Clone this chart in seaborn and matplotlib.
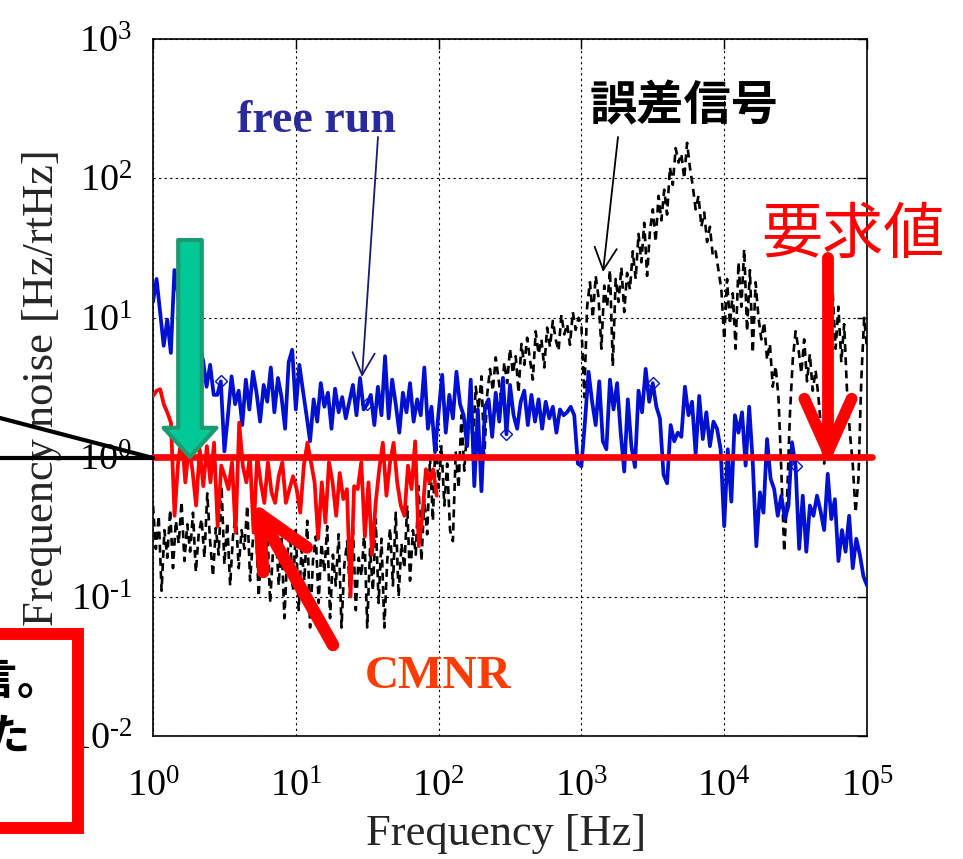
import numpy as np
import pandas as pd
import matplotlib
matplotlib.use("Agg")
import matplotlib.pyplot as plt
import seaborn as sns
from matplotlib.patches import FancyArrowPatch, Rectangle
from matplotlib.lines import Line2D
from matplotlib.ticker import FixedLocator, NullLocator, FuncFormatter

# ---------------- data ----------------
# free run (blue), 40 points per decade, 1 Hz .. 100 kHz
blue_d0 = [13, 19, 11, 6.3, 9.7, 5.6, 22, 15, 9, 6, 8, 5, 4.5, 6, 5.0, 3.2, 4.6, 2.8, 2.8, 3.5,
           1.1, 2.0, 3.8, 2.4, 3.0, 1.7, 3.6, 2.2, 4.1, 2.9, 1.8, 3.3, 2.5, 4.4, 2.1, 3.7, 2.7, 1.6, 4.8, 5.9]
blue_d1 = [2.2, 4.6, 3.0, 2.0, 1.3, 2.6, 1.8, 3.4, 2.3, 2.9, 1.6, 3.1, 2.1, 2.7, 1.9, 2.5, 3.3, 2.0, 3.7, 2.2,
           2.4, 2.8, 1.7, 3.2, 2.0, 5.3, 1.9, 3.6, 2.4, 1.5, 2.9, 2.1, 3.4, 1.8, 2.6, 2.0, 4.4, 1.6, 2.3, 1.1]
blue_d2 = [2.1, 3.9, 1.5, 2.8, 1.9, 4.1, 2.4, 2.0, 1.2, 3.6, 0.62, 2.2, 0.57, 2.3, 2.6, 1.4, 2.9, 1.8, 3.7, 1.46,
           3.3, 2.0, 1.6, 2.5, 3.0, 1.7, 2.8, 1.8, 2.6, 1.6, 2.5, 1.9, 2.3, 1.5, 2.2, 2.0, 2.1, 2.3, 2.0, 0.9]
blue_d3 = [0.86, 1.8, 4.1, 2.5, 1.7, 3.5, 1.3, 1.14, 3.6, 2.2, 3.4, 1.5, 0.79, 2.6, 1.2, 0.85, 3.0, 2.1, 4.3, 2.5,
           3.4, 2.3, 1.9, 0.75, 0.65, 1.7, 1.3, 1.5, 1.4, 3.2, 2.0, 2.5, 1.05, 2.75, 1.35, 2.1, 1.2, 1.8, 1.6, 1.14]
blue_d4 = [0.32, 1.14, 0.48, 2.0, 1.5, 2.1, 0.87, 2.3, 0.92, 0.23, 0.56, 0.40, 1.35, 0.70, 0.59, 0.38, 0.53,
           0.36, 0.45, 1.28, 0.86, 0.22, 0.53, 0.21, 0.45, 0.38, 0.53, 0.41, 0.30, 0.76, 0.36, 0.50, 0.18,
           0.30, 0.21, 0.38, 0.16, 0.26, 0.20, 0.14, 0.12]
blue_marker_idx = [19, 60, 99, 140, 180]

# CMNR (red), 1 Hz .. ~97 Hz
red_cmnr = [2.75, 3.0, 3.07, 2.4, 2.09, 1.77, 0.38, 0.92, 1.42, 0.66, 1.2, 0.8, 0.45, 1.14, 0.62, 1.2,
            0.66, 1.27, 0.32, 0.87, 0.73, 0.59, 0.92, 0.29, 1.77, 0.87, 0.66, 1.02, 0.29, 1.02, 0.66, 0.47,
            0.92, 0.56, 0.47, 0.73, 0.92, 0.47, 0.59, 0.73, 0.59, 0.40, 0.87, 1.27, 0.92, 0.66, 0.26, 0.66,
            0.34, 0.92, 0.66, 0.38, 0.77, 0.50, 0.59, 0.10, 0.62, 0.59, 0.92, 0.27, 0.66, 0.20, 0.47, 0.82,
            1.27, 0.53, 0.92, 1.27, 0.66, 0.45, 0.38, 0.87, 0.59, 1.3, 0.23, 0.38, 0.82, 0.66, 0.82, 0.53]
red_f_end = 97.0

# error signal (black dashed), 50 points per decade
black_d0 = [0.45, 0.22, 0.38, 0.11, 0.30, 0.19, 0.42, 0.16, 0.35, 0.24, 0.48, 0.18, 0.33, 0.21, 0.40, 0.15,
            0.28, 0.36, 0.19, 0.55, 0.25, 0.14, 0.31, 0.20, 0.62, 0.17, 0.34, 0.12, 0.27, 0.39, 0.16, 0.30,
            0.22, 0.45, 0.13, 0.26, 0.35, 0.10, 0.24, 0.18, 0.33, 0.09, 0.21, 0.30, 0.12, 0.26, 0.07, 0.20,
            0.28, 0.11]
black_d1 = [0.30, 0.08, 0.22, 0.13, 0.35, 0.06, 0.18, 0.27, 0.09, 0.24, 0.15, 0.32, 0.07, 0.20, 0.12, 0.28,
            0.06, 0.17, 0.25, 0.10, 0.33, 0.08, 0.19, 0.14, 0.30, 0.06, 0.22, 0.11, 0.36, 0.09, 0.26, 0.06,
            0.18, 0.31, 0.12, 0.40, 0.10, 0.24, 0.16, 0.45, 0.13, 0.30, 0.20, 0.62, 0.18, 0.50, 0.28, 1.0,
            0.35, 1.6]
black_d2 = [0.6, 1.2, 0.45, 0.9, 0.3, 0.25, 1.1, 0.6, 2.0, 0.8, 1.6, 2.6, 1.2, 3.2, 2.2, 3.8, 1.0, 2.8, 4.3,
            3.0, 5.2, 3.6, 2.5, 4.8, 3.4, 6.0, 4.0, 5.3, 2.9, 6.5, 4.6, 7.2, 5.0, 3.6, 8.0, 5.5, 7.0, 4.4,
            8.5, 6.2, 9.5, 7.0, 5.8, 10.5, 7.6, 9.0, 6.4, 11.0, 8.2, 10.0]
black_d3 = [9.0, 2.7, 12.0, 18.0, 10.0, 20.0, 14.0, 6.0, 17.0, 12.0, 22.0, 4.5, 19.0, 13.0, 23.0, 11.0,
            21.0, 16.0, 30.0, 19.0, 40.0, 25.0, 48.0, 20.0, 42.0, 60.0, 35.0, 75.0, 50.0, 83.0, 55.0,
            120.0, 90.0, 165.0, 130.0, 150.0, 100.0, 180.0, 120.0, 88.0, 60.0, 75.0, 45.0, 57.0, 35.0,
            45.0, 28.0, 30.0, 22.0, 16.0]
black_d4 = [7.0, 19.0, 9.0, 15.0, 6.0, 25.0, 12.0, 31.0, 8.0, 22.0, 5.6, 18.0, 10.0, 7.0, 9.3, 5.0, 6.5,
            3.2, 4.5, 2.7, 0.8, 0.21, 0.5, 2.0, 5.0, 8.0, 6.0, 4.0, 7.0, 3.5, 5.5, 3.0, 4.2, 2.7, 1.5, 0.9,
            1.8, 8.0, 15.0, 6.0, 12.0, 4.8, 9.0, 3.0, 1.5, 0.9, 0.4, 0.7, 3.6, 10.0, 6.0]

# requirement level (要求値)
req_freq = [1.0, 1.085e5]
req_level = [1.0, 1.0]

x_ticks = [1e0, 1e1, 1e2, 1e3, 1e4, 1e5]
y_ticks = [1e-2, 1e-1, 1e0, 1e1, 1e2, 1e3]


def decade_grid(decades):
    parts = []
    for i, vals in enumerate(decades):
        last = i == len(decades) - 1
        parts.append(np.logspace(i, i + 1, len(vals), endpoint=last))
    return np.concatenate(parts)


blue_dec = [blue_d0, blue_d1, blue_d2, blue_d3, blue_d4]
black_dec = [black_d0, black_d1, black_d2, black_d3, black_d4]
df_blue = pd.DataFrame({"f": decade_grid(blue_dec), "v": np.concatenate(blue_dec)})
df_black = pd.DataFrame({"f": decade_grid(black_dec), "v": np.concatenate(black_dec)})
df_red = pd.DataFrame({"f": np.logspace(0, np.log10(red_f_end), len(red_cmnr)), "v": red_cmnr})
df_req = pd.DataFrame({"f": req_freq, "v": req_level})

# ---------------- style ----------------
sns.set_style("white")
plt.rcParams["font.family"] = ["Liberation Serif", "Noto Sans CJK JP"]
plt.rcParams["mathtext.fontset"] = "custom"
plt.rcParams["mathtext.rm"] = "Liberation Serif"
plt.rcParams["axes.unicode_minus"] = False

W, H = 963, 859
fig = plt.figure(figsize=(W / 100, H / 100), dpi=100)
ax = fig.add_axes([153 / W, 1 - 736 / H, 714 / W, 697 / H])
ax.set_xscale("log")
ax.set_yscale("log")


def fp(x, y):
    return (x / W, 1 - y / H)


sns.lineplot(data=df_black, x="f", y="v", ax=ax, color="black", lw=1.9,
             linestyle=(0, (3, 2)), estimator=None, sort=False, errorbar=None, zorder=2)
sns.lineplot(data=df_blue, x="f", y="v", ax=ax, color="#0010D0", lw=2.7,
             estimator=None, sort=False, errorbar=None, zorder=3,
             marker="D", markevery=blue_marker_idx, markersize=6,
             markerfacecolor="none", markeredgecolor="#0010D0", markeredgewidth=1)
sns.lineplot(data=df_red, x="f", y="v", ax=ax, color="#FF0000", lw=2.7,
             estimator=None, sort=False, errorbar=None, zorder=4)
sns.lineplot(data=df_req, x="f", y="v", ax=ax, color="#FF0000", lw=4.8,
             estimator=None, sort=False, errorbar=None, zorder=5, clip_on=False)


def sci_label(v, pos):
    e = int(round(np.log10(v)))
    s = str(e).replace("-", r"\text{-}")
    return r"$\mathdefault{10^{%s}}$" % s


ax.set_xlim(1, 1e5)
ax.set_ylim(1e-2, 1e3)
ax.xaxis.set_major_locator(FixedLocator(x_ticks))
ax.yaxis.set_major_locator(FixedLocator(y_ticks))
ax.xaxis.set_minor_locator(NullLocator())
ax.yaxis.set_minor_locator(NullLocator())
ax.xaxis.set_major_formatter(FuncFormatter(sci_label))
ax.yaxis.set_major_formatter(FuncFormatter(sci_label))
ax.tick_params(axis="both", which="major", direction="in", length=7, width=1,
               top=True, right=True, labelsize=27.5, colors="black")
ax.tick_params(axis="x", pad=24)
ax.tick_params(axis="y", pad=15)
ax.grid(True, which="major", color="black", linestyle=(0, (2, 3)), linewidth=0.8)
ax.set_axisbelow(True)
for s in ax.spines.values():
    s.set_color("black")
    s.set_linewidth(1.2)
    s.set_visible(True)
if ax.get_legend() is not None:
    ax.get_legend().remove()

ax.set_xlabel("Frequency [Hz]", fontsize=32, family="Liberation Serif")
ax.set_ylabel("Frequency noise [Hz/rtHz]", fontsize=32, family="Liberation Serif")
ax.xaxis.set_label_coords((506 - 153) / 714, (736 - 814) / 697)
ax.yaxis.set_label_coords((62 - 153) / 714, 0.5)

# ---------------- annotations ----------------
fig.text(*fp(316, 132), "free run", ha="center", va="baseline", fontsize=33,
         fontweight="bold", color="#2A2A9C", family="Liberation Serif")
fig.text(*fp(684, 106), "誤差信号", ha="center", va="center", fontsize=34,
         fontweight="bold", color="black", family=["Noto Sans CJK JP", "DejaVu Sans"])
fig.text(*fp(853, 236), "要求値", ha="center", va="center", fontsize=44,
         color="#FF0000", family=["Noto Sans CJK JP", "DejaVu Sans"])
fig.text(*fp(438, 688), "CMNR", ha="center", va="baseline", fontsize=34,
         fontweight="bold", color="#FF3C00", family="Liberation Serif")


def arrow(p0, p1, style, **kw):
    a = FancyArrowPatch(fp(*p0), fp(*p1), transform=fig.transFigure, arrowstyle=style,
                        mutation_scale=1, shrinkA=0, shrinkB=0, **kw)
    fig.add_artist(a)
    return a


arrow((378, 137), (362, 377), "->,head_length=16,head_width=8", color="#1B1B6B", lw=1.3, zorder=8)
arrow((618, 137), (603, 272), "->,head_length=16,head_width=8", color="black", lw=1.3, zorder=8)
arrow((828, 258), (828, 466), "->,head_length=38,head_width=17", color="#FF0000", lw=8.5,
      capstyle="round", joinstyle="round", zorder=8)
arrow((333, 645), (252, 501), "->,head_length=38,head_width=18", color="#FF0000", lw=9,
      capstyle="round", joinstyle="round", zorder=8)
arrow((190, 240), (190, 457), "simple,head_length=21,head_width=38,tail_width=17",
      facecolor="#00C896", edgecolor="#1E9A70", lw=3, zorder=8)

# callout lines from the left
fig.add_artist(Line2D([0, 153 / W], [1 - 458 / H, 1 - 458 / H], transform=fig.transFigure,
                      color="black", lw=3, zorder=9))
fig.add_artist(Line2D([0, 153 / W], [1 - 418 / H, 1 - 458 / H], transform=fig.transFigure,
                      color="black", lw=3, zorder=9))

# partial red box on the left edge (its text continues beyond the picture, as in the reference)
fig.add_artist(Rectangle((-40 / W, 1 - 827.5 / H), 117.5 / W, 194 / H, transform=fig.transFigure,
                         facecolor="white", edgecolor="#FF0000", lw=8.6, zorder=10))
fig.text(*fp(61, 681), "を確言。", ha="right", va="center", fontsize=31, fontweight="bold",
         color="black", family=["Noto Sans CJK JP", "DejaVu Sans"], zorder=11)
fig.text(*fp(31, 737), "ができた", ha="right", va="center", fontsize=31, fontweight="bold",
         color="black", family=["Noto Sans CJK JP", "DejaVu Sans"], zorder=11)

fig.savefig("out.png", dpi=100)
